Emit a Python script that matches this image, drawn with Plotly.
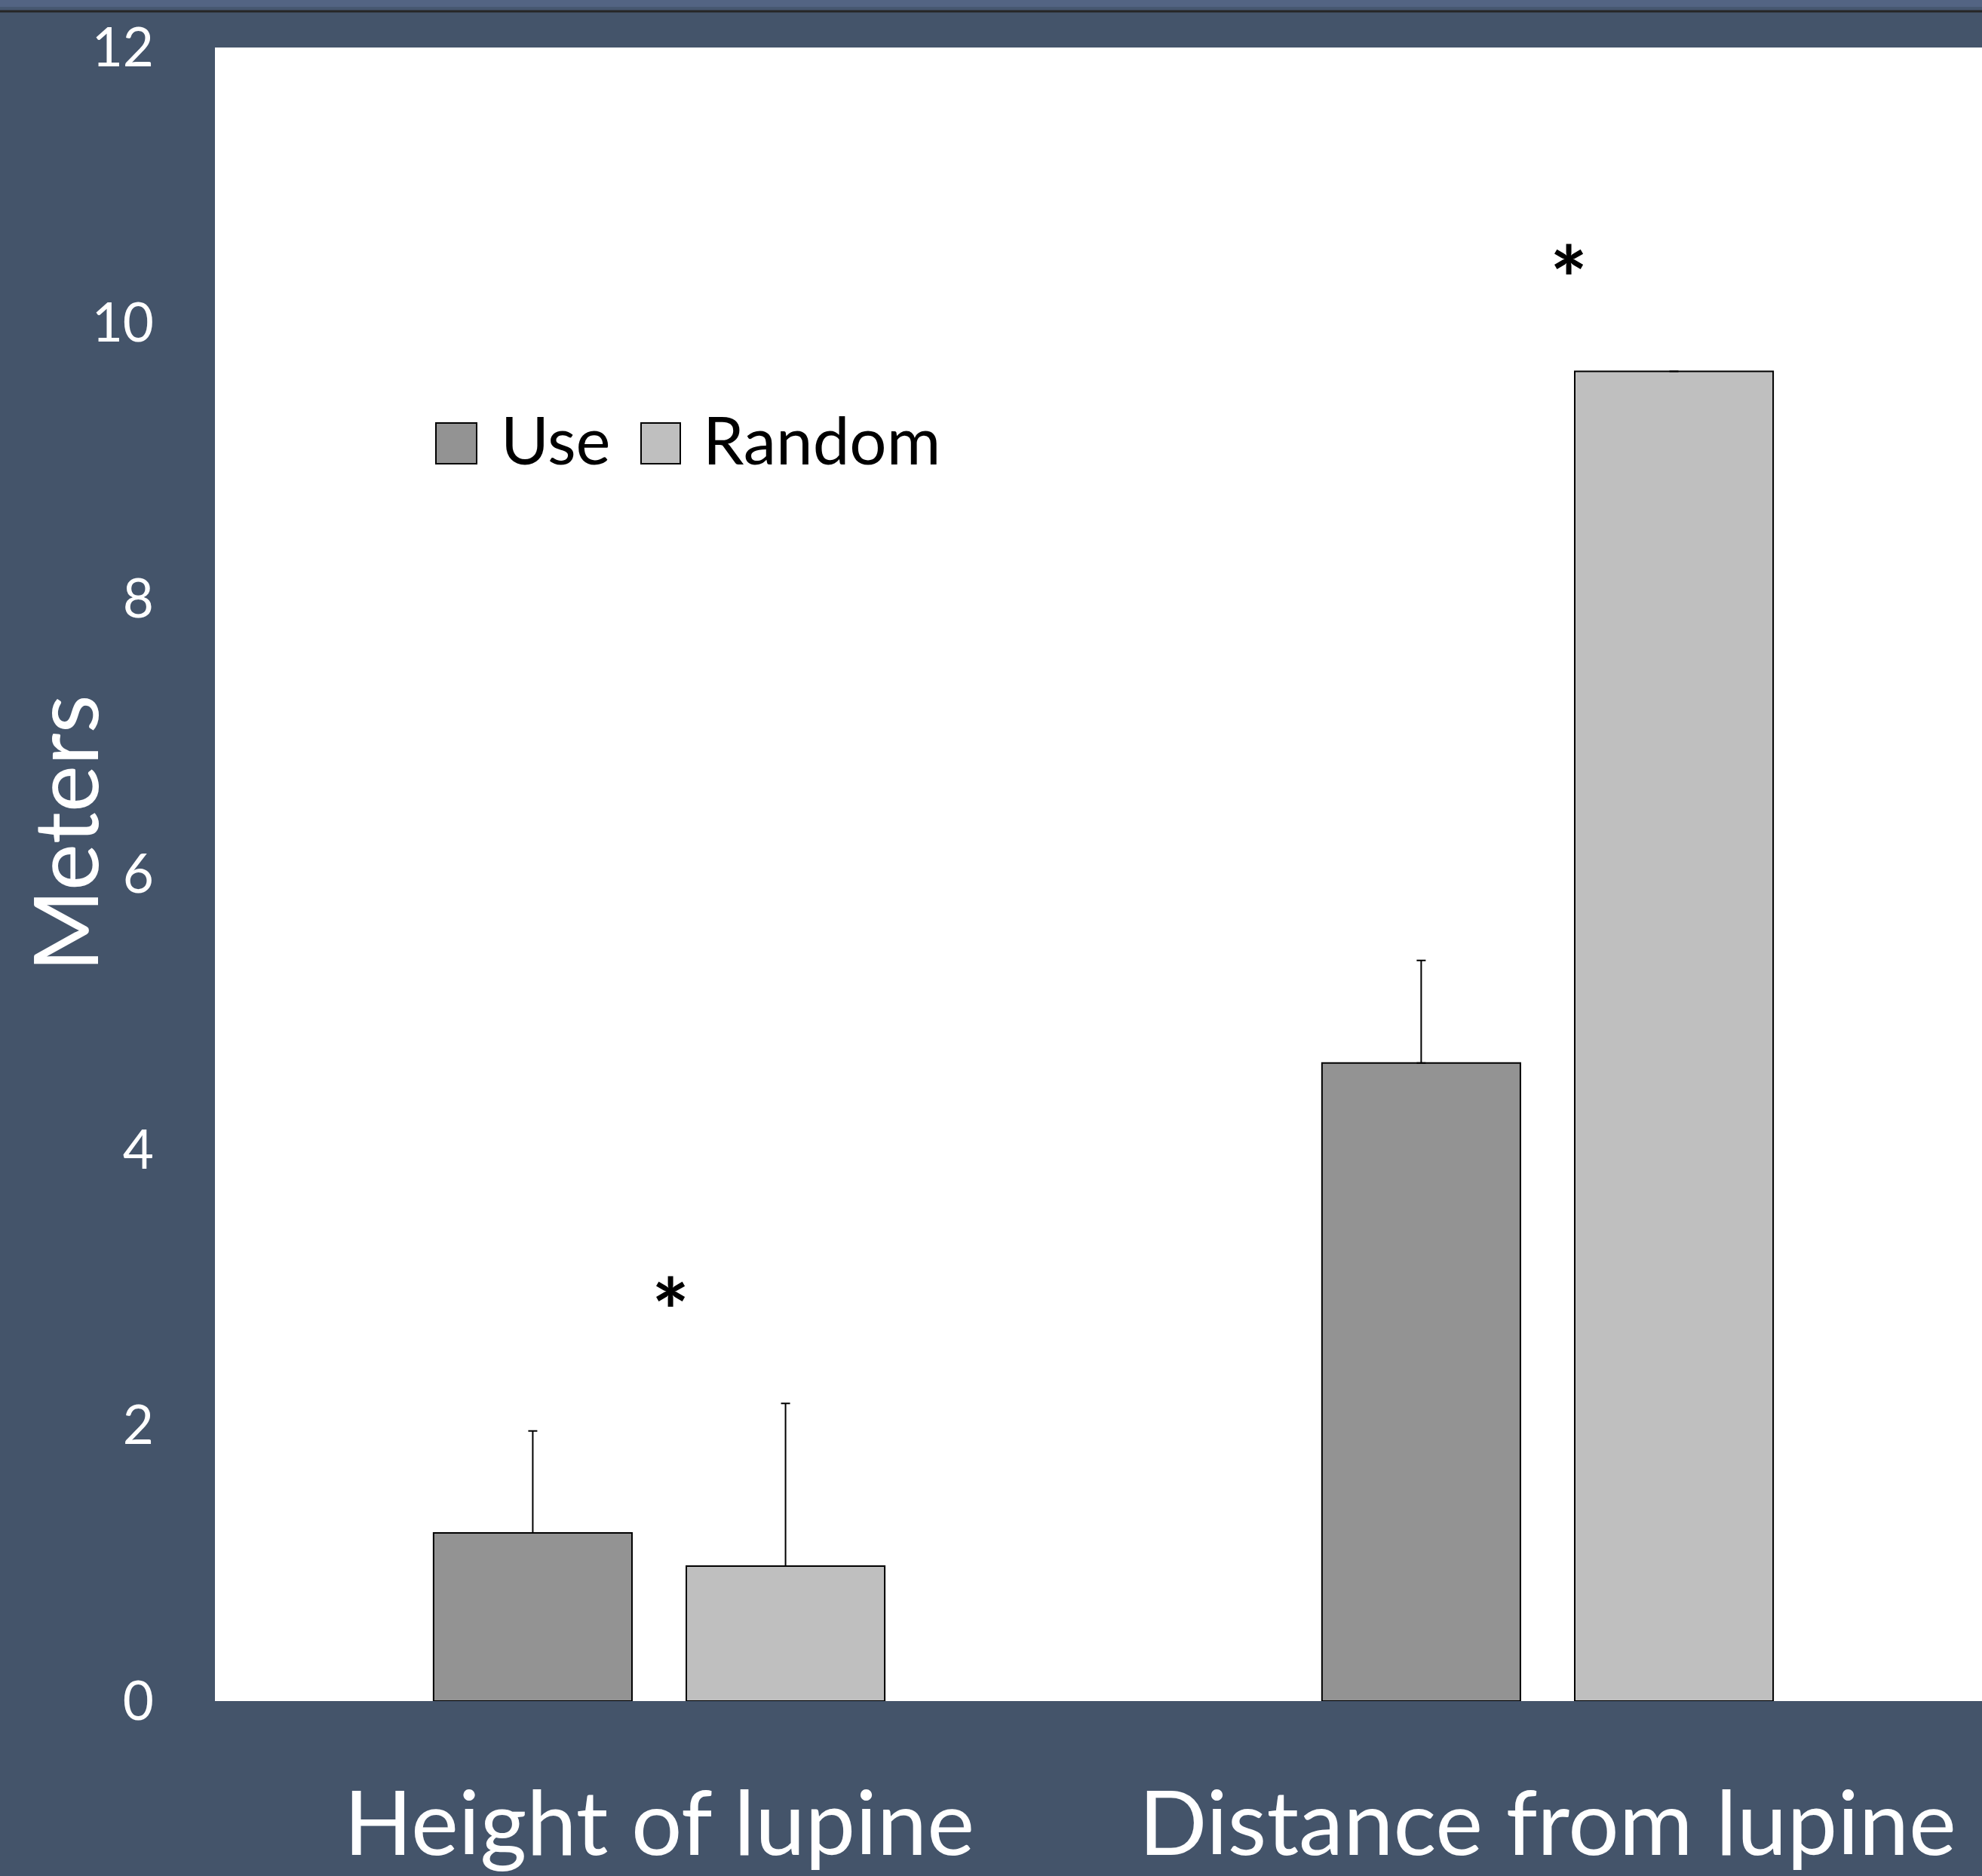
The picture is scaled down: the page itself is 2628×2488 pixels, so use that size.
import plotly.graph_objects as go

categories = ["Height of lupine", "Distance from lupine"]
series_names = ["Use", "Random"]
use_values = [1.22, 4.63]
use_errors = [0.74, 0.745]
random_values = [0.98, 9.65]
random_errors = [1.18, None]
sig_labels = ["*", "*"]
sig_y = [2.97, 10.46]
y_ticks = [0, 2, 4, 6, 8, 10, 12]
y_title = "Meters"

colors = {"Use": "#939393", "Random": "#BFBFBF"}
BG = "#44546A"
FONT = "Lato"

W, H = 2628, 2488
ML, MR, MT, MB = 285, 0, 63, 232
PW, PH = W - ML - MR, H - MT - MB

def px_x(px):
    return (px - ML) / PW

def px_y(py):
    return (H - MB - py) / PH

fig = go.Figure()
for name, vals, errs in [("Use", use_values, use_errors), ("Random", random_values, random_errors)]:
    fig.add_trace(go.Bar(
        x=categories, y=vals, name=name,
        marker=dict(color=colors[name], line=dict(color="black", width=2)),
        error_y=dict(type="data", array=errs, arrayminus=[0] * len(errs), symmetric=False,
                     color="black", thickness=2, width=6),
        showlegend=False,
    ))

# significance markers
sig_shift = [15, 28]
for i, (lab, yv) in enumerate(zip(sig_labels, sig_y)):
    fig.add_annotation(x=i, y=yv, xref="x", yref="y", text=f"<b>{lab}</b>", showarrow=False,
                       xshift=sig_shift[i], font=dict(family=FONT, size=118, color="black"),
                       yanchor="middle", yshift=-24)

# y title
fig.add_annotation(x=px_x(84), y=px_y(1105), xref="paper", yref="paper", text=y_title,
                   textangle=-90, showarrow=False, font=dict(family=FONT, size=118, color="white"),
                   xanchor="center", yanchor="middle")

# manual legend (large swatches)
legend_items = [("Use", 578, 632, 662), ("Random", 850, 902, 930)]
for name, x0, x1, tx in legend_items:
    fig.add_shape(type="rect", xref="paper", yref="paper",
                  x0=px_x(x0), x1=px_x(x1), y0=px_y(615), y1=px_y(561),
                  fillcolor=colors[name], line=dict(color="black", width=2))
    fig.add_annotation(x=px_x(tx), y=px_y(582), xref="paper", yref="paper", text=name,
                       showarrow=False, xanchor="left", yanchor="middle",
                       font=dict(family=FONT, size=87, color="black"))

# top window strip
fig.add_shape(type="rect", xref="paper", yref="paper", x0=-0.2, x1=1.1,
              y0=px_y(9.5), y1=px_y(-5), fillcolor="#536483", line=dict(width=0), layer="above")
fig.add_shape(type="rect", xref="paper", yref="paper", x0=-0.2, x1=1.1,
              y0=px_y(13.5), y1=px_y(9.5), fillcolor="#475770", line=dict(width=0), layer="above")
fig.add_shape(type="rect", xref="paper", yref="paper", x0=-0.2, x1=1.1,
              y0=px_y(16.5), y1=px_y(13.5), fillcolor="#262626", line=dict(width=0), layer="above")

fig.update_layout(
    width=W, height=H,
    margin=dict(l=ML, r=MR, t=MT, b=MB, pad=0),
    paper_bgcolor=BG, plot_bgcolor="white",
    barmode="group", bargap=0.431, bargroupgap=0.215,
    font=dict(family=FONT, color="white"),
)
fig.update_xaxes(range=[-0.5, 1.489], showgrid=False, showline=False, zeroline=False,
                 ticks="", tickfont=dict(family=FONT, size=119, color="white"),
                 ticklabelstandoff=84)
fig.update_yaxes(range=[0, 12], tickvals=y_ticks, showgrid=False, showline=False, zeroline=False,
                 ticks="", tickfont=dict(family=FONT, size=71, color="white"),
                 ticklabelstandoff=80)

fig.write_html("out.html", config={"displayModeBar": False},
               post_script="document.body.style.margin='0';document.body.style.overflow='hidden';")
